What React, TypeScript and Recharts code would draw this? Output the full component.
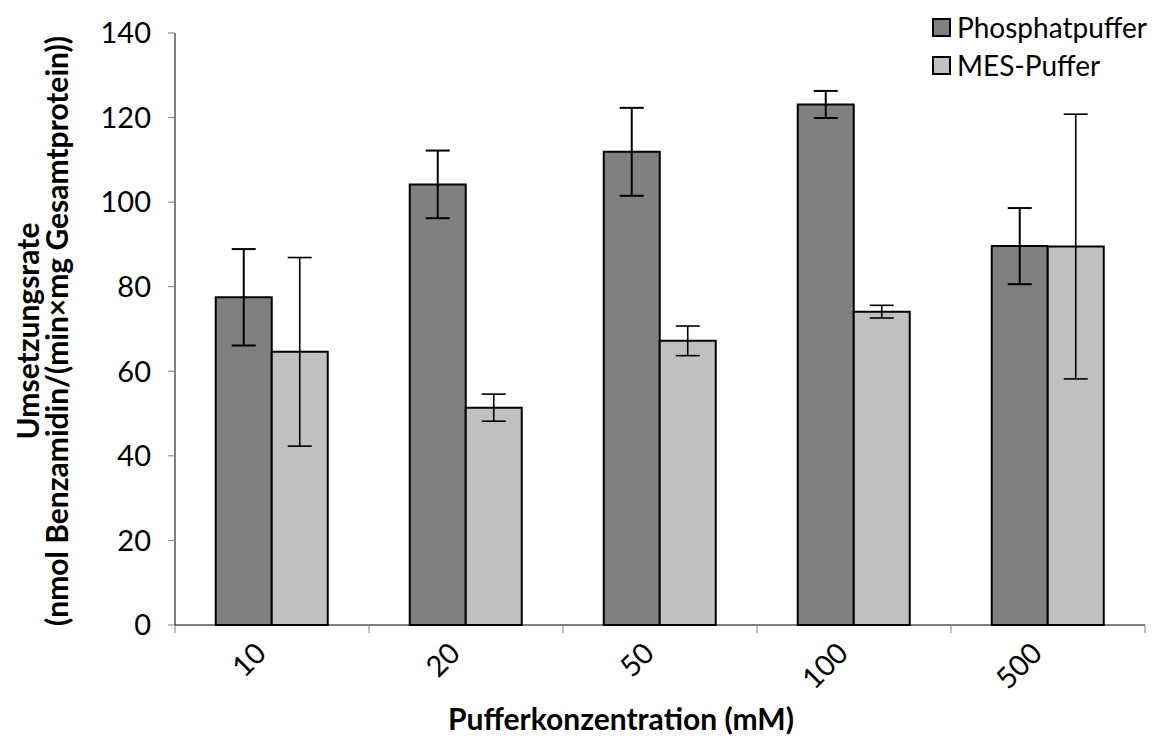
import { BarChart, Bar, XAxis, YAxis, ErrorBar, Legend } from "recharts";

const categories = ["10", "20", "50", "100", "500"];
const phosphat = [77.5, 104.2, 111.9, 123.1, 89.6];
const phosphatErr = [11.4, 8.0, 10.4, 3.2, 9.0];
const mes = [64.6, 51.4, 67.2, 74.1, 89.5];
const mesErr = [22.3, 3.2, 3.5, 1.5, 31.3];
const yTicks = [0, 20, 40, 60, 80, 100, 120, 140];

const data = categories.map((c, i) => ({
  name: c,
  phosphat: phosphat[i],
  phosphatErr: phosphatErr[i],
  mes: mes[i],
  mesErr: mesErr[i],
}));

const FONT = "Lato, 'Open Sans', sans-serif";
const WIDTH = 1155;
const HEIGHT = 730;
const PLOT_LEFT = 167;
const PLOT_TOP = 25;
const PLOT_RIGHT = 1137;
const PLOT_BOTTOM = 617;
const BAND = (PLOT_RIGHT - PLOT_LEFT) / categories.length;

const series = [
  { name: "Phosphatpuffer", color: "#808080" },
  { name: "MES-Puffer", color: "#c0c0c0" },
];

function XTick(props: any) {
  const { x, payload, index } = props;
  const half = BAND / 2;
  const tx = x - 4;
  const ty = PLOT_BOTTOM + 30;
  return (
    <g>
      <line x1={x - half} x2={x - half} y1={PLOT_BOTTOM} y2={PLOT_BOTTOM + 8} stroke="#808080" />
      {index === categories.length - 1 && (
        <line x1={x + half} x2={x + half} y1={PLOT_BOTTOM} y2={PLOT_BOTTOM + 8} stroke="#808080" />
      )}
      <text
        x={tx}
        y={ty}
        transform={`rotate(-45, ${tx}, ${ty})`}
        textAnchor="end"
        fontFamily={FONT}
        fontSize={29}
        fill="#000"
      >
        {payload.value}
      </text>
    </g>
  );
}

function YTitle() {
  const cy = 323;
  return (
    <g fontFamily={FONT} fontSize={30} fontWeight="bold" fill="#000">
      <text x={19} y={cy} transform={`rotate(-90, 19, ${cy})`} textAnchor="middle" dominantBaseline="central">
        Umsetzungsrate
      </text>
      <text x={48} y={cy} transform={`rotate(-90, 48, ${cy})`} textAnchor="middle" dominantBaseline="central">
        (nmol Benzamidin/(min×mg Gesamtprotein))
      </text>
    </g>
  );
}

function XTitle() {
  return (
    <text x={613} y={710} textAnchor="middle" dominantBaseline="central" fontFamily={FONT} fontSize={30} fontWeight="bold" fill="#000">
      Pufferkonzentration (mM)
    </text>
  );
}

function LegendBox() {
  return (
    <div style={{ fontFamily: FONT, fontSize: 28, color: "#000" }}>
      {series.map((s) => (
        <div key={s.name} style={{ display: "flex", alignItems: "center", height: 38, whiteSpace: "nowrap" }}>
          <span
            style={{
              display: "inline-block",
              width: 15,
              height: 15,
              background: s.color,
              border: "2px solid #000",
              marginRight: 6,
            }}
          />
          {s.name}
        </div>
      ))}
    </div>
  );
}

export default function App() {
  return (
    <BarChart
      width={WIDTH}
      height={HEIGHT}
      data={data}
      margin={{ top: PLOT_TOP, right: WIDTH - PLOT_RIGHT, left: 0, bottom: 0 }}
      barCategoryGap="21%"
      barGap={0}
    >
      <XAxis
        dataKey="name"
        height={HEIGHT - PLOT_BOTTOM}
        axisLine={{ stroke: "#000", strokeWidth: 1 }}
        tickLine={false}
        tick={<XTick />}
        interval={0}
        label={<XTitle />}
      />
      <YAxis
        width={PLOT_LEFT}
        domain={[0, 140]}
        ticks={yTicks}
        interval={0}
        axisLine={{ stroke: "#000", strokeWidth: 1 }}
        tickLine={{ stroke: "#808080" }}
        tickSize={7}
        tickMargin={17}
        tick={{ fontFamily: FONT, fontSize: 29, fill: "#000" }}
        label={<YTitle />}
      />
      <Legend
        layout="vertical"
        align="center"
        verticalAlign="middle"
        content={<LegendBox />}
        wrapperStyle={{ top: 0, left: 924, width: "auto", height: "auto" }}
      />
      <Bar dataKey="phosphat" name="Phosphatpuffer" fill="#808080" stroke="#000" strokeWidth={2} isAnimationActive={false}>
        <ErrorBar dataKey="phosphatErr" width={12} stroke="#000" strokeWidth={2} isAnimationActive={false} />
      </Bar>
      <Bar dataKey="mes" name="MES-Puffer" fill="#c0c0c0" stroke="#000" strokeWidth={2} isAnimationActive={false}>
        <ErrorBar dataKey="mesErr" width={12} stroke="#000" strokeWidth={1.6} isAnimationActive={false} />
      </Bar>
    </BarChart>
  );
}
